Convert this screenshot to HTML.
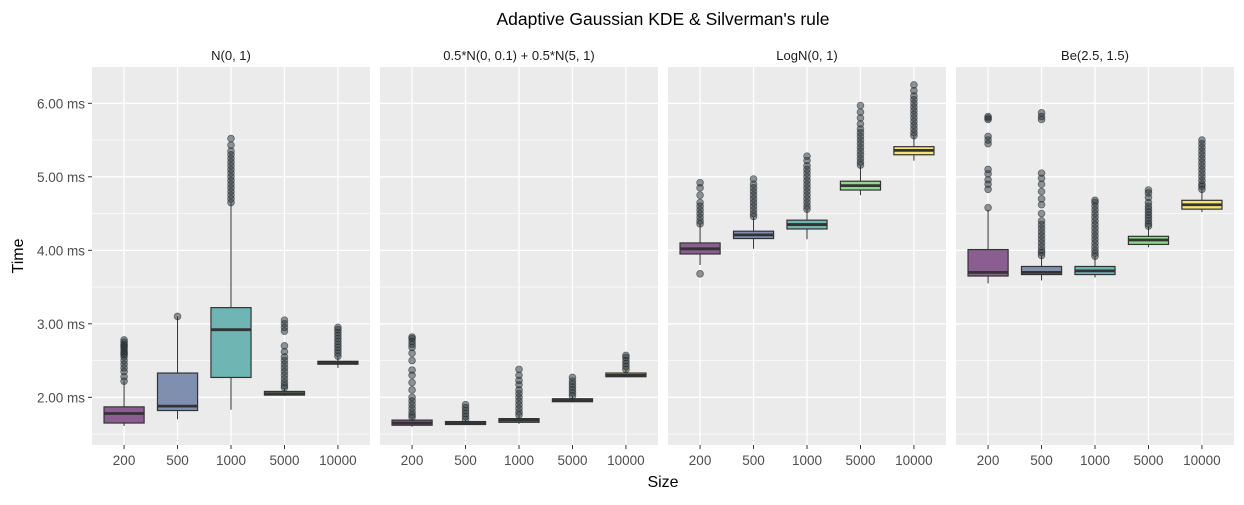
<!DOCTYPE html>
<html><head><meta charset="utf-8"><style>
body{margin:0;background:#fff;font-family:"Liberation Sans",sans-serif}
svg text{font-family:"Liberation Sans",sans-serif}
</style></head><body>
<svg id="chart" width="1244" height="500" xmlns="http://www.w3.org/2000/svg">
<text x="663" y="25" text-anchor="middle" font-size="17.5" fill="#000">Adaptive Gaussian KDE &amp; Silverman's rule</text>
<text x="663" y="487" text-anchor="middle" font-size="16" fill="#000">Size</text>
<text transform="translate(23,256) rotate(-90)" text-anchor="middle" font-size="16" fill="#000">Time</text>
<g id="panels"></g>
</svg>
<script>
const categories = ["200","500","1000","5000","10000"];
const panelTitles = ["N(0, 1)","0.5*N(0, 0.1) + 0.5*N(5, 1)","LogN(0, 1)","Be(2.5, 1.5)"];
const yTicks = [2,3,4,5,6];
const yTickLabels = ["2.00 ms","3.00 ms","4.00 ms","5.00 ms","6.00 ms"];
// [lowWhisker, q1, median, q3, highWhisker] per panel per category
const stats1 = [[1.61,1.65,1.78,1.87,2.22],[1.70,1.82,1.88,2.33,3.10],[1.83,2.27,2.92,3.22,4.65],[2.02,2.03,2.05,2.08,2.12],[2.40,2.45,2.47,2.49,2.55]];
const stats2 = [[1.60,1.62,1.65,1.69,1.72],[1.62,1.63,1.65,1.67,1.69],[1.64,1.66,1.69,1.71,1.75],[1.93,1.94,1.96,1.98,2.01],[2.27,2.28,2.30,2.33,2.37]];
const stats3 = [[3.80,3.95,4.02,4.10,4.35],[4.02,4.16,4.21,4.26,4.45],[4.15,4.29,4.35,4.41,4.55],[4.75,4.82,4.88,4.94,5.15],[5.22,5.30,5.36,5.41,5.55]];
const stats4 = [[3.55,3.65,3.70,4.01,4.55],[3.59,3.67,3.70,3.78,3.92],[3.63,3.67,3.72,3.78,3.91],[4.04,4.08,4.14,4.19,4.32],[4.52,4.56,4.62,4.68,4.82]];
const out1 = [[2.22,2.28,2.35,2.40,2.45,2.5,2.55,2.58,2.6,2.62,2.65,2.68,2.7,2.72,2.75,2.78],[3.10],[4.65,4.7,4.75,4.8,4.85,4.9,4.95,5.0,5.05,5.1,5.15,5.2,5.25,5.3,5.35,5.43,5.52],[2.13,2.16,2.2,2.25,2.3,2.35,2.4,2.45,2.5,2.55,2.62,2.7,2.9,2.95,3.0,3.05],[2.56,2.6,2.64,2.68,2.72,2.76,2.8,2.84,2.88,2.92,2.95]];
const out2 = [[1.73,1.76,1.8,1.85,1.9,1.95,2.0,2.1,2.2,2.3,2.37,2.5,2.6,2.68,2.72,2.76,2.8,2.82],[1.70,1.74,1.78,1.82,1.86,1.90],[1.76,1.8,1.85,1.9,1.95,2.0,2.05,2.1,2.17,2.23,2.3,2.38],[2.02,2.06,2.1,2.14,2.18,2.22,2.27],[2.38,2.42,2.46,2.5,2.54,2.57]];
const out3 = [[3.68,4.36,4.4,4.45,4.5,4.55,4.6,4.65,4.75,4.85,4.92],[4.46,4.5,4.55,4.6,4.65,4.7,4.75,4.8,4.85,4.9,4.97],[4.56,4.6,4.65,4.7,4.75,4.8,4.85,4.9,4.95,5.0,5.05,5.1,5.15,5.22,5.28],[5.16,5.2,5.25,5.3,5.35,5.4,5.45,5.5,5.55,5.6,5.65,5.72,5.8,5.88,5.97],[5.56,5.6,5.65,5.7,5.75,5.8,5.85,5.9,5.95,6.0,6.05,6.1,6.17,6.25]];
const out4 = [[4.58,4.83,4.9,4.96,5.04,5.1,5.45,5.5,5.55,5.78,5.8,5.82],[3.93,3.97,4.0,4.05,4.1,4.15,4.2,4.25,4.3,4.35,4.4,4.5,4.62,4.7,4.8,4.9,4.98,5.05,5.78,5.82,5.87],[3.92,3.96,4.0,4.05,4.1,4.15,4.2,4.25,4.3,4.35,4.4,4.45,4.5,4.55,4.6,4.65,4.68],[4.33,4.36,4.4,4.44,4.48,4.52,4.56,4.6,4.65,4.72,4.78,4.82],[4.83,4.87,4.9,4.95,5.0,5.05,5.1,5.15,5.2,5.25,5.3,5.35,5.4,5.45,5.5]];
const allStats=[stats1,stats2,stats3,stats4];
const allOut=[out1,out2,out3,out4];
const fills=["#8a5e91","#7f8fb0","#6fb5b3","#8fd68e","#f6e36b"];
const NS="http://www.w3.org/2000/svg";
const panelX0=92, panelW=278, panelGap=10, pTop=67, pBottom=445;
const yScale=v=>397.3-(v-2)*73.5;
const xScale=(p,i)=>panelX0+p*(panelW+panelGap)+(i+0.6)*panelW/5.2;
const band=panelW/5.2*0.75;
function mk(tag,attrs,parent){const e=document.createElementNS(NS,tag);for(const k in attrs)e.setAttribute(k,attrs[k]);parent.appendChild(e);return e;}
const root=document.getElementById("panels");
for(let p=0;p<4;p++){
  const px=panelX0+p*(panelW+panelGap);
  const g=mk("g",{},root);
  
  
  const bg=mk("rect",{x:px,y:pTop,width:panelW,height:pBottom-pTop,fill:"#ebebeb"},g);
  
  
  for(let v=1.5;v<=6.5;v+=0.5){const y=yScale(v);if(y<pTop||y>pBottom)continue;
    const l=mk("line",{x1:px,x2:px+panelW,y1:y,y2:y,stroke:"#fff","stroke-width":(v%1===0)?1.3:0.65},g);
    
    }
  for(let i=0;i<5;i++){const x=xScale(p,i);
    const l=mk("line",{x1:x,x2:x,y1:pTop,y2:pBottom,stroke:"#fff","stroke-width":1.3},g);
    
    
    const tk=mk("line",{x1:x,x2:x,y1:pBottom,y2:pBottom+4,stroke:"#333"},g);
    
    
    const t=mk("text",{x:x,y:pBottom+20,"text-anchor":"middle","font-size":13.5,fill:"#4d4d4d"},g);
    t.textContent=categories[i];
    
    }
  const st=mk("text",{x:px+panelW/2,y:60,"text-anchor":"middle","font-size":13,fill:"#1a1a1a"},g);
  st.textContent=panelTitles[p];
  
  
  for(let i=0;i<5;i++){
    const s=allStats[p][i], x=xScale(p,i);
    const bx=mk("g",{},g);
    
    
    mk("line",{x1:x,x2:x,y1:yScale(s[0]),y2:yScale(s[1]),stroke:"#333","stroke-width":1},bx);
    mk("line",{x1:x,x2:x,y1:yScale(s[3]),y2:yScale(s[4]),stroke:"#333","stroke-width":1},bx);
    mk("rect",{x:x-band/2,y:yScale(s[3]),width:band,height:Math.max(yScale(s[1])-yScale(s[3]),1),fill:fills[i],stroke:"#333","stroke-width":1.2},bx);
    mk("line",{x1:x-band/2,x2:x+band/2,y1:yScale(s[2]),y2:yScale(s[2]),stroke:"#333","stroke-width":2.8},bx);
    for(const v of allOut[p][i]){
      const c=mk("circle",{cx:x,cy:yScale(v),r:3.4,fill:"rgba(40,48,52,0.5)",stroke:"rgba(40,48,52,0.6)","stroke-width":0.8},bx);
      
      
    }
  }
}
const ax=mk("g",{},root);


yTicks.forEach((v,k)=>{const y=yScale(v);
  mk("line",{x1:88,x2:92,y1:y,y2:y,stroke:"#333"},ax);
  const t=mk("text",{x:85,y:y+5,"text-anchor":"end","font-size":13.5,fill:"#4d4d4d"},ax);
  t.textContent=yTickLabels[k];
  
  });
</script>
</body></html>
